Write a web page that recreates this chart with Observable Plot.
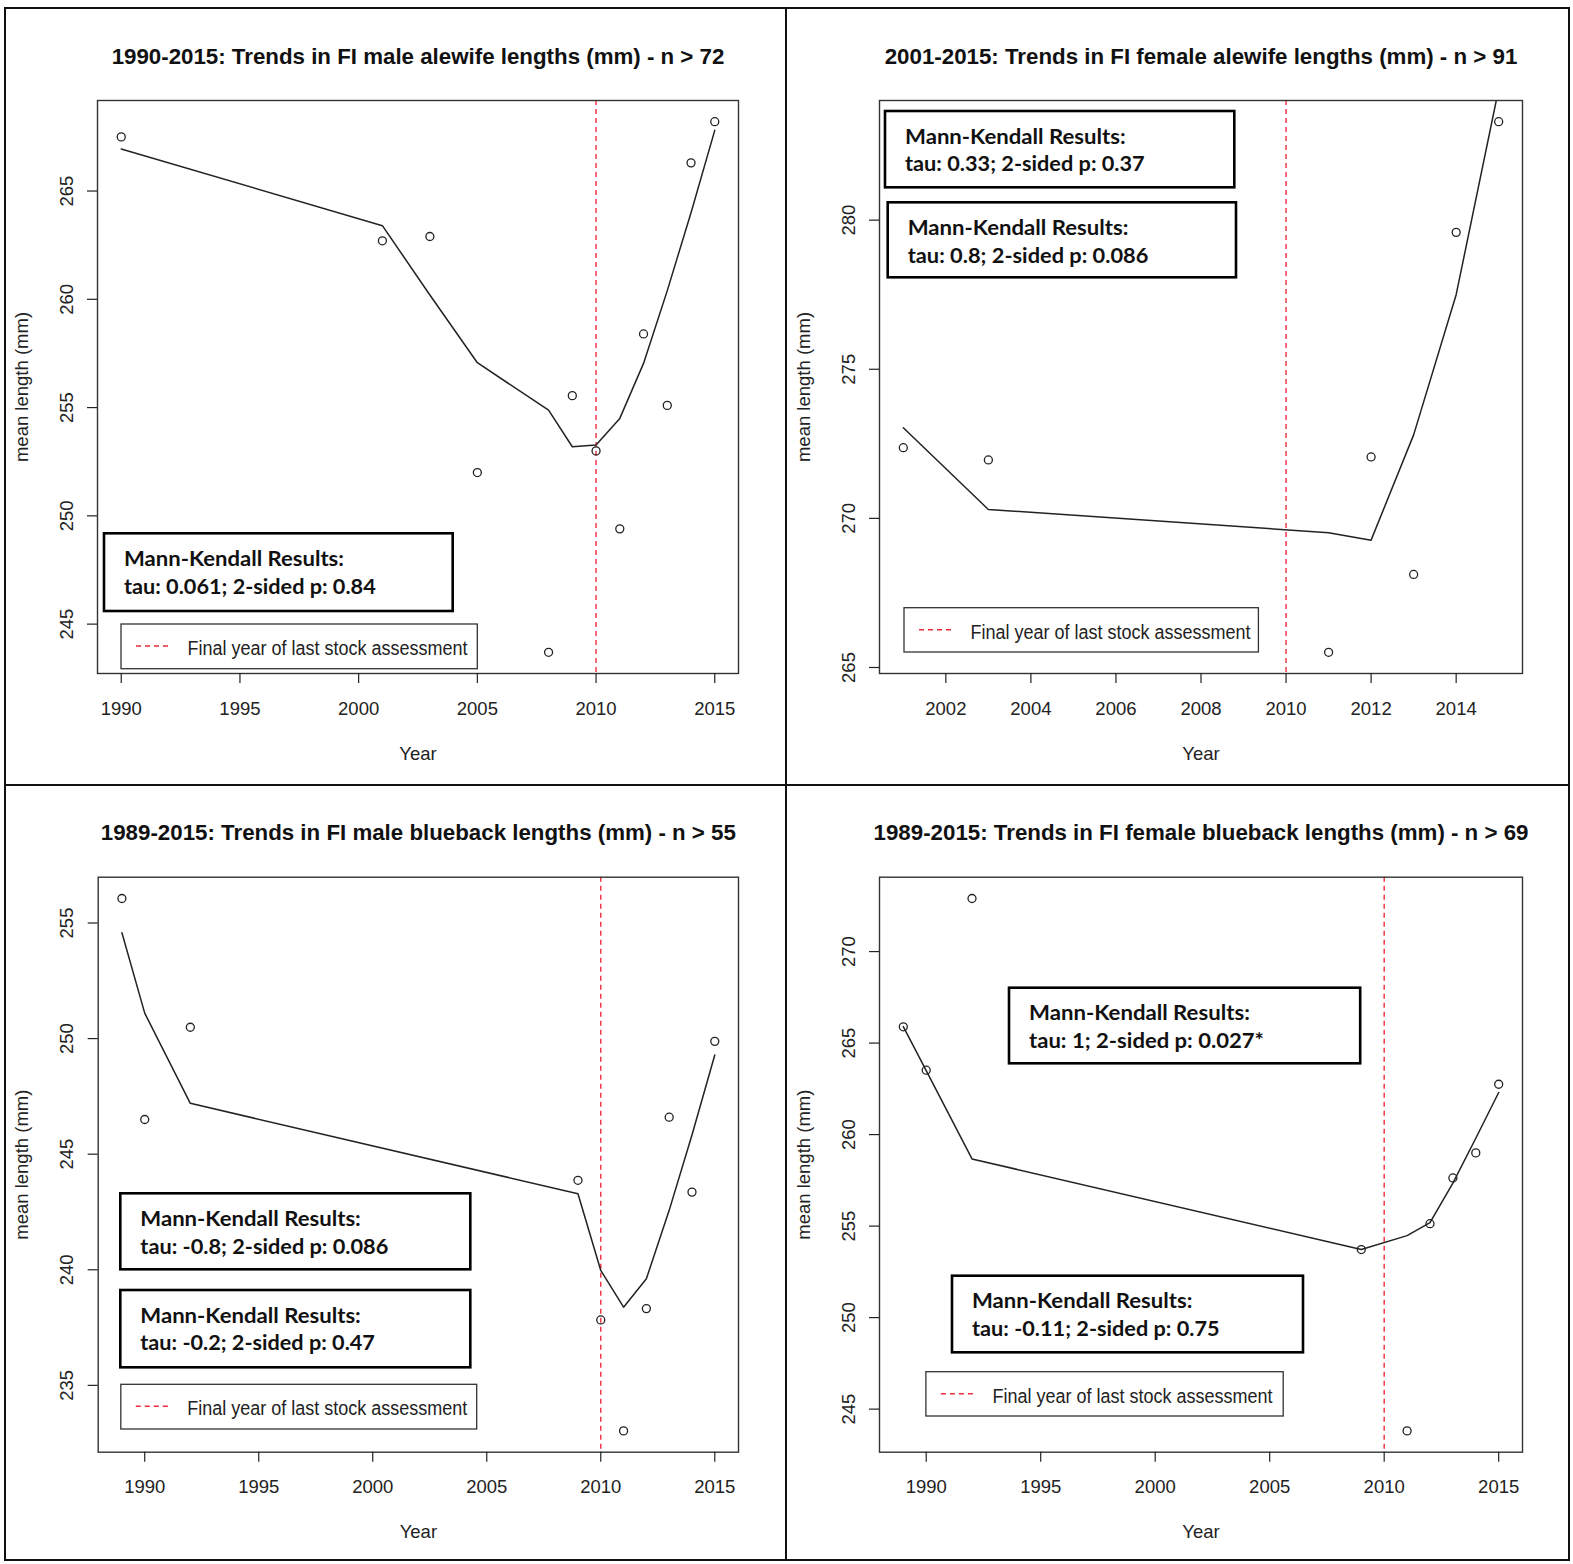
<!DOCTYPE html>
<html><head><meta charset="utf-8">
<script src="https://cdn.jsdelivr.net/npm/d3@7"></script>
<script src="https://cdn.jsdelivr.net/npm/@observablehq/plot@0.6"></script>
<style>
body{margin:0;background:#fff;}
#page{position:relative;width:1573px;height:1564px;overflow:hidden;background:#fff;}
#page svg{position:absolute;}
</style></head><body><div id="page"></div>
<script>
// ---------------- DATA ----------------
// Panel 1: FI male alewife
const maleAlewifeYears  = [1990, 2001, 2003, 2005, 2008, 2009, 2010, 2011, 2012, 2013, 2014, 2015];
const maleAlewifeMean   = [267.5, 262.7, 262.9, 252.0, 243.7, 255.55, 253.0, 249.4, 258.4, 255.1, 266.3, 268.2];
const maleAlewifeSmooth = [266.94, 263.4, 260.2, 257.07, 254.88, 253.19, 253.27, 254.5, 257.04, 260.4, 264.0, 267.8];
// Panel 2: FI female alewife
const femaleAlewifeYears  = [2001, 2003, 2011, 2012, 2013, 2014, 2015];
const femaleAlewifeMean   = [272.37, 271.96, 265.51, 272.06, 268.12, 279.59, 283.3];
const femaleAlewifeSmooth = [273.04, 270.3, 269.52, 269.27, 272.8, 277.5, 284.4];
// Panel 3: FI male blueback
const maleBluebackYears  = [1989, 1990, 1992, 2009, 2010, 2011, 2012, 2013, 2014, 2015];
const maleBluebackMean   = [256.06, 246.5, 250.49, 243.87, 237.83, 233.03, 238.32, 246.6, 243.36, 249.88];
const maleBluebackSmooth = [254.58, 251.1, 247.2, 243.29, 239.97, 238.38, 239.61, 242.57, 245.83, 249.29];
// Panel 4: FI female blueback
const femaleBluebackYears  = [1989, 1990, 1992, 2009, 2011, 2012, 2013, 2014, 2015];
const femaleBluebackMean   = [265.89, 263.52, 272.9, 253.72, 243.81, 255.13, 257.63, 259.0, 262.75];
const femaleBluebackSmooth = [265.9, 263.5, 258.67, 253.72, 254.48, 255.19, 257.35, 259.8, 262.3];

const titles = [
  "1990-2015: Trends in FI male alewife lengths (mm) - n > 72",
  "2001-2015: Trends in FI female alewife lengths (mm) - n > 91",
  "1989-2015: Trends in FI male blueback lengths (mm) - n > 55",
  "1989-2015: Trends in FI female blueback lengths (mm) - n > 69"
];
const xTicks1 = [1990, 1995, 2000, 2005, 2010, 2015];
const xTicks2 = [2002, 2004, 2006, 2008, 2010, 2012, 2014];
const yTicks1 = [245, 250, 255, 260, 265];
const yTicks2 = [265, 270, 275, 280];
const yTicks3 = [235, 240, 245, 250, 255];
const yTicks4 = [245, 250, 255, 260, 265, 270];
const assessmentYear = 2010;
const yLabel = "mean length (mm)";
const xLabel = "Year";
const legendLabel = "Final year of last stock assessment";
const mkHeader = "Mann-Kendall Results:";
const mkStats = [
  ["tau: 0.061; 2-sided p: 0.84"],
  ["tau: 0.33; 2-sided p: 0.37", "tau: 0.8; 2-sided p: 0.086"],
  ["tau: -0.8; 2-sided p: 0.086", "tau: -0.2; 2-sided p: 0.47"],
  ["tau: 1; 2-sided p: 0.027*", "tau: -0.11; 2-sided p: 0.75"]
];

// ---------------- LAYOUT ----------------
const panels = [
  {years: maleAlewifeYears, mean: maleAlewifeMean, smooth: maleAlewifeSmooth, xt: xTicks1, yt: yTicks1, title: titles[0],
   left: 5, top: 8, width: 781, height: 775, mL: 92, mR: 48, mT: 92, mB: 110},
  {years: femaleAlewifeYears, mean: femaleAlewifeMean, smooth: femaleAlewifeSmooth, xt: xTicks2, yt: yTicks2, title: titles[1],
   left: 786, top: 8, width: 783, height: 775, mL: 93, mR: 47, mT: 92, mB: 110},
  {years: maleBluebackYears, mean: maleBluebackMean, smooth: maleBluebackSmooth, xt: xTicks1, yt: yTicks3, title: titles[2],
   left: 5, top: 784, width: 781, height: 776, mL: 92.7, mR: 48, mT: 92.7, mB: 108.3},
  {years: femaleBluebackYears, mean: femaleBluebackMean, smooth: femaleBluebackSmooth, xt: xTicks1, yt: yTicks4, title: titles[3],
   left: 786, top: 784, width: 783, height: 776, mL: 93, mR: 47, mT: 92.7, mB: 108.3}
];

const mkBoxes = [
  {p: 0, i: 0, x: 104,   y: 533.3,  w: 348.7, h: 77.7, widths: [220, 251.7]},
  {p: 1, i: 0, x: 885,   y: 111,    w: 349.3, h: 76.3, widths: [220.7, 239.7]},
  {p: 1, i: 1, x: 887.7, y: 202.3,  w: 348.3, h: 75,   widths: [220.7, 240.7]},
  {p: 2, i: 0, x: 120.3, y: 1193.3, w: 350,   h: 76,   widths: [220.5, 248]},
  {p: 2, i: 1, x: 120.3, y: 1290,   w: 350,   h: 77.3, widths: [220.5, 234.6]},
  {p: 3, i: 0, x: 1009,  y: 987.7,  w: 351.2, h: 75.6, widths: [220.9, 235]},
  {p: 3, i: 1, x: 952,   y: 1275.7, w: 351,   h: 76.6, widths: [220.4, 247.6]}
];
const legendBoxes = [
  {x: 121,   y: 624,    w: 356.3, h: 44.7},
  {x: 904,   y: 607.7,  w: 354.4, h: 44.3},
  {x: 120.8, y: 1384.3, w: 355.9, h: 44.7},
  {x: 925.9, y: 1371.7, w: 357.3, h: 44.3}
];

const RED = "#ee2a3c";
const FONT = "'Liberation Sans', Arial, sans-serif";
const page = document.getElementById("page");

// ---------------- PLOTS ----------------
for (const p of panels) {
  const pts = p.years.map((x, i) => ({x, y: p.mean[i]}));
  const fit = p.years.map((x, i) => ({x, y: p.smooth[i]}));
  const xe = d3.extent(p.years), ye = d3.extent(p.mean);
  const px = (xe[1] - xe[0]) * 0.04, py = (ye[1] - ye[0]) * 0.04;
  const chart = Plot.plot({
    width: p.width, height: p.height,
    marginLeft: p.mL, marginRight: p.mR, marginTop: p.mT, marginBottom: p.mB,
    style: {background: "transparent", fontFamily: FONT, color: "#222", overflow: "visible"},
    x: {domain: [xe[0] - px, xe[1] + px], axis: null},
    y: {domain: [ye[0] - py, ye[1] + py], axis: null},
    marks: [
      Plot.ruleX([assessmentYear], {stroke: RED, strokeWidth: 1.4, strokeDasharray: "5,4"}),
      Plot.line(fit, {x: "x", y: "y", stroke: "#222", strokeWidth: 1.5, clip: true}),
      Plot.dot(pts, {x: "x", y: "y", r: 4, stroke: "#222", strokeWidth: 1.3, fill: "none"}),
      Plot.frame({stroke: "#333", strokeWidth: 1.4}),
      Plot.axisX({ticks: p.xt, tickSize: 10, tickPadding: 18, tickFormat: d => String(d), label: null, fontSize: 18.5, strokeWidth: 1.2}),
      Plot.axisY({ticks: p.yt, tickSize: 10, tickFormat: () => "", label: null, strokeWidth: 1.2}),
      Plot.text(p.yt, {y: d => d, frameAnchor: "left", text: d => String(d), rotate: -90, dx: -25, textAnchor: "middle", lineAnchor: "bottom", fontSize: 18.5}),
      Plot.text([yLabel], {frameAnchor: "left", rotate: -90, dx: -70, textAnchor: "middle", lineAnchor: "bottom", fontSize: 18.5}),
      Plot.text([xLabel], {frameAnchor: "bottom", dy: 86, textAnchor: "middle", lineAnchor: "bottom", fontSize: 18.5}),
      Plot.text([p.title], {frameAnchor: "top", dy: -37, textAnchor: "middle", lineAnchor: "bottom", fontSize: 22.3, fontWeight: "bold", fill: "#111"})
    ]
  });
  chart.style.left = p.left + "px";
  chart.style.top = p.top + "px";
  page.appendChild(chart);
}

// ---------------- OVERLAY: panel borders, result boxes, legends ----------------
const ov = d3.select(page).append("svg")
  .attr("width", 1573).attr("height", 1564)
  .style("left", "0px").style("top", "0px");

ov.append("rect").attr("x", 5).attr("y", 8).attr("width", 1564).attr("height", 1552)
  .attr("fill", "none").attr("stroke", "#111").attr("stroke-width", 2);
ov.append("line").attr("x1", 786).attr("x2", 786).attr("y1", 8).attr("y2", 1560)
  .attr("stroke", "#111").attr("stroke-width", 2);
ov.append("line").attr("x1", 5).attr("x2", 1569).attr("y1", 785).attr("y2", 785)
  .attr("stroke", "#111").attr("stroke-width", 2);

for (const b of mkBoxes) {
  const g = ov.append("g");
  g.append("rect").attr("x", b.x).attr("y", b.y).attr("width", b.w).attr("height", b.h)
    .attr("fill", "#fff").attr("stroke", "#000").attr("stroke-width", 2.6);
  const lines = [mkHeader, mkStats[b.p][b.i]];
  lines.forEach((t, k) => {
    g.append("text").attr("x", b.x + 20).attr("y", b.y + 32.5 + k * 27.8)
      .attr("font-family", "Lato, 'Open Sans', sans-serif").attr("font-weight", "bold")
      .attr("font-size", 21.5).attr("fill", "#111")
      .attr("textLength", b.widths[k]).attr("lengthAdjust", "spacingAndGlyphs")
      .text(t);
  });
}

for (const b of legendBoxes) {
  const g = ov.append("g");
  g.append("rect").attr("x", b.x).attr("y", b.y).attr("width", b.w).attr("height", b.h)
    .attr("fill", "#fff").attr("stroke", "#333").attr("stroke-width", 1.3);
  g.append("line").attr("x1", b.x + 15).attr("x2", b.x + 50).attr("y1", b.y + 22).attr("y2", b.y + 22)
    .attr("stroke", RED).attr("stroke-width", 1.4).attr("stroke-dasharray", "5,4");
  g.append("text").attr("x", b.x + 66.5).attr("y", b.y + 31)
    .attr("font-family", FONT).attr("font-size", 20).attr("fill", "#222")
    .attr("textLength", 280).attr("lengthAdjust", "spacingAndGlyphs")
    .text(legendLabel);
}
</script></body></html>
